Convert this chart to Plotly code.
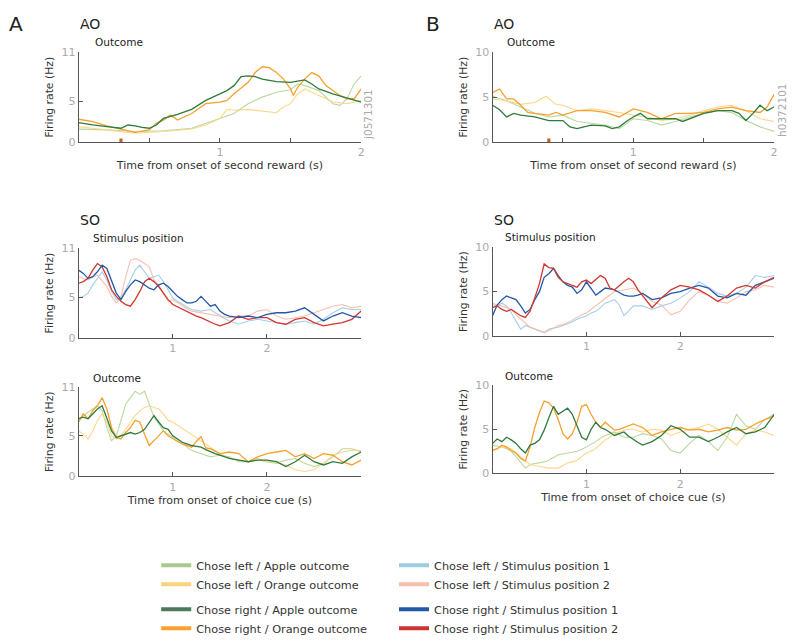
import plotly.graph_objects as go

# ---------------- data ----------------
# AO panels (time from onset of second reward, s)
A_ao_rapple_t = [0,0.1,0.2,0.3,0.35,0.4,0.45,0.5,0.55,0.6,0.7,0.8,0.9,1.0,1.05,1.1,1.15,1.2,1.25,1.3,1.4,1.5,1.6,1.65,1.7,1.8,1.9,1.95,2.0]
A_ao_rapple_y = [2.4,2.1,1.9,1.7,2.1,2.0,1.8,1.7,2.1,2.9,3.4,4.0,5.1,5.9,6.3,6.9,8.0,8.1,8.0,7.7,7.4,7.3,7.6,7.1,6.5,5.9,5.4,5.1,4.9]
A_ao_rorange_t = [0,0.1,0.2,0.3,0.4,0.5,0.55,0.6,0.65,0.7,0.8,0.9,1.0,1.05,1.1,1.2,1.25,1.3,1.35,1.4,1.45,1.5,1.52,1.55,1.6,1.65,1.7,1.75,1.8,1.85,1.9,1.95,2.0]
A_ao_rorange_y = [2.8,2.5,2.0,1.6,1.2,1.5,2.3,2.7,3.3,2.7,3.5,4.7,4.9,5.1,5.9,7.3,8.5,9.2,9.1,8.5,7.7,6.5,5.7,6.7,7.7,8.5,8.1,6.9,6.3,5.7,5.3,5.3,6.5]
A_ao_lapple_t = [0,0.2,0.4,0.6,0.8,0.9,1.0,1.1,1.2,1.3,1.4,1.5,1.55,1.6,1.7,1.8,1.85,1.9,1.95,2.0]
A_ao_lapple_y = [1.6,1.5,1.3,1.4,1.7,2.3,2.9,3.5,4.7,5.5,6.1,6.4,7.1,6.9,6.3,4.7,4.5,5.3,7.1,8.1]
A_ao_lorange_t = [0,0.2,0.4,0.6,0.8,0.9,1.0,1.05,1.1,1.2,1.3,1.4,1.45,1.5,1.55,1.6,1.65,1.7,1.8,1.9,2.0]
A_ao_lorange_y = [1.9,1.5,1.1,1.3,1.6,2.1,2.9,4.0,3.9,4.0,3.8,3.6,4.3,4.7,5.9,6.5,6.1,5.7,4.9,4.7,5.1]

B_ao_rapple_t = [0,0.05,0.1,0.15,0.2,0.3,0.4,0.5,0.55,0.6,0.7,0.8,0.85,0.9,0.95,1.0,1.05,1.1,1.2,1.3,1.35,1.4,1.5,1.6,1.7,1.75,1.8,1.85,1.9,1.95,2.0]
B_ao_rapple_y = [4.1,3.6,2.8,3.2,3.0,2.8,2.4,2.4,1.7,1.5,1.9,1.8,1.5,1.7,2.3,2.8,3.2,2.6,2.6,2.6,2.3,2.6,3.2,3.5,3.5,3.2,2.4,3.2,4.1,3.5,3.9]
B_ao_rorange_t = [0,0.05,0.1,0.15,0.2,0.25,0.3,0.4,0.45,0.5,0.6,0.7,0.8,0.9,1.0,1.1,1.2,1.3,1.4,1.5,1.6,1.7,1.8,1.9,1.95,2.0]
B_ao_rorange_y = [5.5,5.9,4.8,4.8,4.1,3.3,3.2,3.0,3.3,3.0,3.5,3.5,3.3,2.8,3.7,3.3,2.6,3.2,3.2,3.3,3.7,3.9,3.5,3.3,3.9,5.3]
B_ao_lorange_t = [0,0.1,0.2,0.3,0.38,0.45,0.5,0.6,0.7,0.8,0.9,1.0,1.1,1.2,1.3,1.4,1.5,1.6,1.7,1.8,1.9,2.0]
B_ao_lorange_y = [4.8,4.6,4.2,4.4,5.1,4.2,4.1,3.5,3.7,3.5,3.3,3.0,2.8,2.4,2.6,3.0,3.5,3.9,4.1,3.5,2.6,2.3]
B_ao_lapple_t = [0,0.1,0.2,0.3,0.4,0.5,0.6,0.7,0.8,0.9,1.0,1.1,1.2,1.3,1.4,1.5,1.6,1.7,1.8,1.9,2.0]
B_ao_lapple_y = [5.1,4.6,3.9,3.2,2.8,3.0,2.3,2.1,1.9,1.5,2.6,2.4,1.9,2.3,2.8,3.2,3.5,3.3,2.4,1.7,1.2]

# SO panels (time from onset of choice cue, s)
T_SO = [0,0.05,0.1,0.15,0.2,0.25,0.3,0.35,0.4,0.45,0.5,0.55,0.6,0.65,0.7,0.75,0.8,0.85,0.9,0.95,1.0,
        1.05,1.1,1.15,1.2,1.25,1.3,1.35,1.4,1.45,1.5,1.55,1.6,
        1.7,1.8,1.9,2.0,2.1,2.2,2.3,2.4,2.5,2.6,2.7,2.8,2.9,3.0]

A_pos_rpos1 = [8.3,7.9,7.3,7.5,8.1,8.9,8.5,6.9,5.5,4.7,5.7,6.5,7.1,6.9,6.5,6.1,5.9,6.5,6.7,6.3,5.7,
               5.1,4.7,4.3,4.3,4.5,5.1,4.5,3.9,4.1,3.3,2.9,2.7,
               2.5,2.7,2.5,2.9,3.1,3.1,3.3,3.7,2.9,2.1,2.7,3.1,2.7,2.5]
A_pos_rpos2 = [6.7,6.9,7.3,8.3,9.1,8.7,7.5,5.9,5.1,4.5,4.1,3.9,4.7,5.7,6.9,7.3,6.9,6.3,5.5,4.7,4.1,
               3.8,3.5,3.2,2.9,2.7,2.5,2.2,1.9,1.7,1.5,1.7,1.9,
               2.7,2.3,2.5,2.5,1.9,1.7,2.3,2.5,1.9,1.5,1.7,1.9,2.3,3.3]
A_pos_lpos1 = [4.9,5.1,5.5,6.5,7.3,8.1,7.1,5.7,4.7,4.9,5.9,7.1,8.3,8.9,8.1,7.3,7.5,7.7,6.9,5.9,4.9,
               4.5,4.1,3.8,3.5,3.4,3.3,3.4,3.5,3.1,2.7,2.4,2.1,
               1.7,2.1,2.3,2.1,1.9,1.7,1.9,2.1,1.7,2.3,3.1,3.7,3.5,3.5]
A_pos_lpos2 = [7.5,7.3,7.1,7.4,7.7,7.0,6.3,5.1,4.3,5.1,7.5,9.5,9.7,9.5,9.1,8.7,7.1,6.5,5.5,4.5,4.7,
               4.3,3.9,3.6,3.3,3.2,3.1,3.0,2.9,2.8,2.7,2.6,2.5,
               2.7,2.7,3.3,3.5,2.7,2.3,2.5,2.7,3.1,3.5,3.9,4.1,3.7,3.9]

A_out_rapple = [7.1,7.3,7.1,7.7,8.3,8.7,7.1,5.6,4.8,5.0,5.2,5.4,5.2,5.4,5.8,6.7,7.5,6.7,6.0,5.8,5.0,
                4.6,4.2,4.0,3.8,3.7,3.6,3.3,3.0,2.8,2.6,2.4,2.2,
                2.0,1.8,2.0,2.0,1.8,1.2,1.8,2.6,1.8,1.4,1.8,1.6,2.4,3.0]
A_out_rorange = [6.7,7.7,7.1,8.1,8.7,9.7,8.3,6.0,4.8,4.6,5.4,6.0,6.9,6.7,5.2,3.8,4.4,5.0,5.6,5.0,4.6,
                 4.3,4.0,3.8,3.6,4.3,4.9,3.5,3.4,3.1,2.8,2.9,3.0,
                 2.8,1.8,2.4,2.8,3.0,3.2,2.4,2.8,2.2,2.8,2.6,1.8,1.4,2.0]
A_out_lapple = [7.1,7.5,7.9,8.3,8.7,8.1,6.0,4.4,5.0,6.9,8.9,9.7,10.5,10.1,10.5,8.9,7.3,6.5,5.6,5.2,4.8,
                4.4,4.0,3.6,3.2,3.0,2.8,2.6,2.4,2.5,2.6,2.5,2.4,
                1.8,1.8,2.2,1.8,1.6,2.0,2.2,1.6,1.2,1.6,2.4,3.4,3.4,3.0]
A_out_lorange = [5.6,5.2,4.6,5.6,6.9,7.7,6.7,5.0,4.6,5.0,5.8,6.7,7.5,8.1,8.5,8.7,8.5,8.3,7.7,6.9,6.7,
                 6.3,6.0,5.6,5.2,4.8,4.4,4.0,3.6,3.2,2.8,2.5,2.2,
                 2.0,1.8,2.0,1.8,1.8,1.4,0.8,0.6,0.8,1.6,2.6,3.0,3.2,3.2]

B_pos_rpos1 = [2.3,3.5,4.1,4.5,4.3,4.1,3.4,2.6,3.0,4.1,5.0,6.6,7.0,7.6,6.8,6.1,5.7,5.5,4.8,5.2,6.1,
               5.4,4.6,5.0,5.4,5.3,5.2,4.9,4.6,4.5,4.5,4.6,4.8,
               4.1,4.3,4.8,5.0,5.4,5.7,5.4,4.5,4.3,4.8,4.6,5.7,6.1,6.5]
B_pos_rpos2 = [3.2,3.4,3.0,2.8,3.0,2.6,2.3,2.1,2.8,4.3,5.9,8.1,7.7,7.6,6.6,6.1,5.9,5.7,5.5,6.1,6.3,
               5.9,6.3,6.8,6.5,5.4,5.2,5.7,6.1,6.5,6.1,5.2,4.5,
               3.2,4.3,5.2,5.7,5.5,5.2,4.6,3.9,4.5,5.4,5.7,5.4,6.1,6.6]
B_pos_lpos1 = [3.5,3.4,3.7,3.4,2.6,1.7,0.8,1.2,1.0,0.8,0.6,0.4,0.8,0.9,1.0,1.2,1.4,1.6,1.9,2.1,2.3,
               2.6,2.8,3.2,3.7,3.9,4.1,3.5,2.3,2.8,3.4,3.4,3.4,
               3.0,3.4,3.7,4.3,5.0,6.1,5.5,4.8,4.5,4.8,5.5,6.8,6.6,6.8]
B_pos_lpos2 = [3.7,3.5,3.4,3.2,3.0,2.4,1.9,1.4,1.0,0.8,0.6,0.4,0.6,0.9,1.2,1.3,1.5,1.8,2.1,2.4,2.6,
               3.0,3.4,3.8,4.1,4.6,5.0,5.1,5.2,5.3,5.4,5.1,4.8,
               3.9,3.5,2.4,2.8,4.1,5.0,4.6,3.9,3.7,4.3,5.0,5.2,5.7,5.5]

B_out_rapple = [3.4,3.9,3.6,4.1,3.8,3.4,2.8,2.3,3.2,3.4,3.8,4.9,6.3,7.6,6.7,7.1,7.4,6.7,5.4,4.1,3.8,
                5.0,5.8,5.2,5.0,4.6,4.3,4.5,4.7,4.2,3.8,3.5,3.2,
                3.6,4.3,5.4,5.0,4.1,4.1,3.6,4.1,4.7,5.2,4.5,4.7,5.2,6.7]
B_out_rorange = [2.6,2.8,3.2,3.0,2.6,2.3,1.7,1.4,3.0,5.2,6.9,8.2,8.0,7.4,6.1,4.5,3.9,4.5,5.8,7.6,7.8,
                 6.7,5.8,5.2,5.8,5.3,4.9,5.0,5.2,5.4,5.6,5.4,5.2,
                 4.3,4.7,5.0,5.2,4.9,5.0,4.7,4.9,5.2,4.9,5.0,5.6,6.1,6.5]
B_out_lapple = [3.2,3.1,3.0,2.8,2.5,1.9,1.2,0.6,1.0,1.1,1.2,1.3,1.5,1.8,2.1,2.2,2.3,2.4,2.5,2.7,3.0,
                3.3,3.6,4.0,4.3,4.5,4.7,4.4,4.1,4.1,4.1,4.3,4.5,
                4.3,3.9,2.6,2.3,3.4,4.3,3.6,2.6,4.1,6.7,5.4,5.0,6.1,6.7]
B_out_lorange = [2.6,2.8,3.0,2.9,2.8,2.3,1.9,1.4,1.0,0.9,0.8,0.7,0.6,0.6,0.6,0.9,1.2,1.3,1.5,1.9,2.3,
                 2.5,2.8,3.3,3.8,4.1,4.5,4.7,4.9,5.0,5.0,4.8,4.7,
                 5.0,4.9,4.3,4.7,5.0,5.2,5.6,5.0,4.1,3.2,4.5,4.9,4.7,4.3]

# event markers (time, s) and tick labels
A_event_t = 0.30
B_event_t = 0.40
AO_ticks = [0.5, 1, 1.5, 2]
AO_ticktext = ["", "1", "", "2"]
SO_ticks = [1, 2, 3]
SO_ticktext = ["1", "2", ""]
A_yticks = [0, 5, 11]
B_yticks = [0, 5, 10]

LEGEND_LABELS = ["Chose left / Apple outcome", "Chose left / Orange outcome",
                 "Chose right / Apple outcome", "Chose right / Orange outcome",
                 "Chose left / Stimulus position 1", "Chose left / Stimulus position 2",
                 "Chose right / Stimulus position 1", "Chose right / Stimulus position 2"]

# ---------------- style ----------------
FONT = "DejaVu Sans"
C_LAPPLE = "#b3d596"
C_LORANGE = "#fdd37f"
C_RAPPLE = "#2f7a3c"
C_RORANGE = "#f6a02e"
C_LPOS1 = "#9dcbe6"
C_LPOS2 = "#f8baa8"
C_RPOS1 = "#2358a6"
C_RPOS2 = "#d1372e"
LEG_COLORS = ["#a9c98c", "#fdd27a", "#4d7a5a", "#f9a12e", "#9ccbe4", "#f9bfae", "#2358a6", "#cc3333"]

W, H = 800, 644
def px(x0, x1):
    return [x0 / W, x1 / W]
def py(top, bottom):
    return [1 - bottom / H, 1 - top / H]

fig = go.Figure()

def line(x, y, color, axis, width=1.2, op=1.0):
    fig.add_trace(go.Scatter(x=x, y=y, mode="lines", line=dict(color=color, width=width),
                             opacity=op, showlegend=False, hoverinfo="skip",
                             xaxis="x" + axis, yaxis="y" + axis))

line(A_ao_lapple_t, A_ao_lapple_y, C_LAPPLE, "", 1.1, 0.9)
line(A_ao_lorange_t, A_ao_lorange_y, C_LORANGE, "", 1.1, 0.9)
line(A_ao_rorange_t, A_ao_rorange_y, C_RORANGE, "", 1.3)
line(A_ao_rapple_t, A_ao_rapple_y, C_RAPPLE, "", 1.3)

line(B_ao_lapple_t, B_ao_lapple_y, C_LAPPLE, "2", 1.1, 0.9)
line(B_ao_lorange_t, B_ao_lorange_y, C_LORANGE, "2", 1.1, 0.9)
line(B_ao_rorange_t, B_ao_rorange_y, C_RORANGE, "2", 1.3)
line(B_ao_rapple_t, B_ao_rapple_y, C_RAPPLE, "2", 1.3)

line(T_SO, A_pos_lpos1, C_LPOS1, "3", 1.1, 0.9)
line(T_SO, A_pos_lpos2, C_LPOS2, "3", 1.1, 0.9)
line(T_SO, A_pos_rpos2, C_RPOS2, "3", 1.3)
line(T_SO, A_pos_rpos1, C_RPOS1, "3", 1.3)

line(T_SO, B_pos_lpos1, C_LPOS1, "4", 1.1, 0.9)
line(T_SO, B_pos_lpos2, C_LPOS2, "4", 1.1, 0.9)
line(T_SO, B_pos_rpos1, C_RPOS1, "4", 1.3)
line(T_SO, B_pos_rpos2, C_RPOS2, "4", 1.3)

line(T_SO, A_out_lapple, C_LAPPLE, "5", 1.1, 0.9)
line(T_SO, A_out_lorange, C_LORANGE, "5", 1.1, 0.9)
line(T_SO, A_out_rorange, C_RORANGE, "5", 1.3)
line(T_SO, A_out_rapple, C_RAPPLE, "5", 1.3)

line(T_SO, B_out_lapple, C_LAPPLE, "6", 1.1, 0.9)
line(T_SO, B_out_lorange, C_LORANGE, "6", 1.1, 0.9)
line(T_SO, B_out_rorange, C_RORANGE, "6", 1.3)
line(T_SO, B_out_rapple, C_RAPPLE, "6", 1.3)

# legend entries (dummy traces with thick line samples)
for i, (lab, col) in enumerate(zip(LEGEND_LABELS, LEG_COLORS)):
    fig.add_trace(go.Scatter(x=[None], y=[None], mode="lines", name=lab,
                             line=dict(color=col, width=4),
                             legend="legend" if i < 4 else "legend2",
                             legendgroup="g%d" % (i // 2)))

# event markers
for xa, t in (("x", A_event_t), ("x2", B_event_t)):
    fig.add_shape(type="rect", xref=xa, yref="y" if xa == "x" else "y2",
                  x0=t - 0.011, x1=t + 0.011, y0=0, y1=0.45 if xa == "x" else 0.42,
                  fillcolor="#c2602a", line=dict(width=0))

axis_common = dict(showline=True, linecolor="#555", linewidth=1, ticks="inside", ticklen=4,
                   tickcolor="#555", showgrid=False, zeroline=False,
                   tickfont=dict(family=FONT, size=11, color="#aaaaaa"))

def xaxis(dom, rng, tv, tt, anchor, title=None):
    d = dict(axis_common, domain=dom, range=rng, tickvals=tv, ticktext=tt, anchor=anchor)
    if title:
        d["title"] = dict(text=title, font=dict(family=FONT, size=11, color="#333"), standoff=2)
    return d

def yaxis(dom, top, tv, anchor):
    return dict(axis_common, domain=dom, range=[0, top], tickvals=tv, anchor=anchor,
                title=dict(text="Firing rate (Hz)", font=dict(family=FONT, size=10.8, color="#333"),
                           standoff=5))

XA = px(79, 363)
XB = px(495, 778)
layout = dict(
    width=W, height=H, margin=dict(l=0, r=0, t=0, b=0),
    paper_bgcolor="white", plot_bgcolor="white",
    font=dict(family=FONT, color="#333"),
    xaxis=xaxis(XA, [0, 2], AO_ticks, AO_ticktext, "y", "Time from onset of second reward (s)"),
    yaxis=yaxis(py(47, 139), 11, A_yticks, "x"),
    xaxis2=xaxis(XB, [0, 2], AO_ticks, AO_ticktext, "y2", "Time from onset of second reward (s)"),
    yaxis2=yaxis(py(47, 139), 10, B_yticks, "x2"),
    xaxis3=xaxis(XA, [0, 3], SO_ticks, SO_ticktext, "y3"),
    yaxis3=yaxis(py(247, 339), 11, A_yticks, "x3"),
    xaxis4=xaxis(XB, [0, 3], SO_ticks, SO_ticktext, "y4"),
    yaxis4=yaxis(py(246, 337), 10, B_yticks, "x4"),
    xaxis5=xaxis(XA, [0, 3], SO_ticks, SO_ticktext, "y5", "Time from onset of choice cue (s)"),
    yaxis5=yaxis(py(389, 480), 11, A_yticks, "x5"),
    xaxis6=xaxis(XB, [0, 3], SO_ticks, SO_ticktext, "y6", "Time from onset of choice cue (s)"),
    yaxis6=yaxis(py(387, 477), 10, B_yticks, "x6"),
    legend=dict(x=157 / W, y=1 - 556 / H, xanchor="left", yanchor="top",
                bgcolor="rgba(0,0,0,0)", font=dict(family=FONT, size=11.3, color="#333"),
                traceorder="grouped", tracegroupgap=6, itemwidth=30),
    legend2=dict(x=396 / W, y=1 - 556 / H, xanchor="left", yanchor="top",
                 bgcolor="rgba(0,0,0,0)", font=dict(family=FONT, size=11.3, color="#333"),
                 traceorder="grouped", tracegroupgap=6, itemwidth=30),
)
fig.update_layout(**layout)

def ann(x, y, text, size, color="#222", angle=0, xanchor="left"):
    fig.add_annotation(x=x / W, y=1 - y / H, xref="paper", yref="paper", text=text,
                       showarrow=False, xanchor=xanchor, yanchor="middle", textangle=angle,
                       font=dict(family=FONT, size=size, color=color))

ann(7, 18, "A", 20)
ann(78, 18, "AO", 14)
ann(93, 37, "Outcome", 10.5)
ann(78, 218, "SO", 14)
ann(91, 237, "Stimulus position", 10.5)
ann(91, 380, "Outcome", 10.5)
ann(426, 18, "B", 20)
ann(494, 18, "AO", 14)
ann(508, 37, "Outcome", 10.5)
ann(494, 218, "SO", 14)
ann(506, 236, "Stimulus position", 10.5)
ann(506, 378, "Outcome", 10.5)
ann(370, 111, "j0571301", 10.5, "#aaaaaa", -90, "center")
ann(786, 107, "h0372101", 10.5, "#aaaaaa", -90, "center")

fig.write_html("out.html", config={"displayModeBar": False},
               post_script="document.body.style.margin='0';document.body.style.overflow='hidden';")
